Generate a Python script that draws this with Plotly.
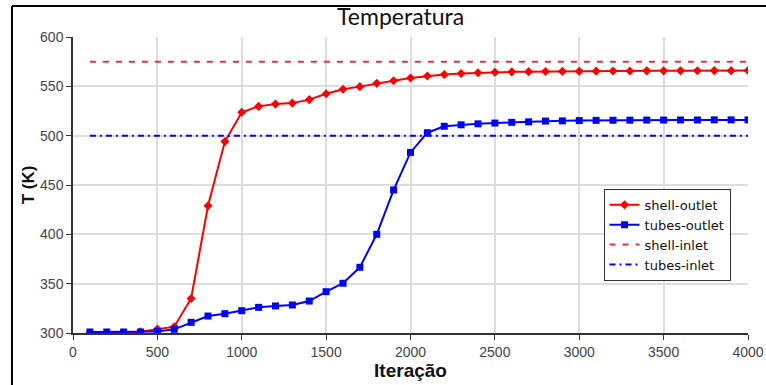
import plotly.graph_objects as go

iterations = list(range(100, 4001, 100))

shell_outlet = [300, 300, 300, 301.3, 304, 306.4, 335, 429, 494, 523.7,
                529.7, 532, 533, 536.5, 542.5, 547, 549.7, 553, 555.6, 558.4,
                560.5, 562, 563, 563.7, 564.2, 564.7, 564.9, 565.1, 565.2, 565.3,
                565.4, 565.5, 565.6, 565.7, 565.7, 565.8, 565.8, 565.9, 565.9, 566]

tubes_outlet = [301, 301, 301, 301, 301.5, 303.7, 310.8, 317.2, 319.6, 322.6,
                326, 327.4, 328.4, 332.4, 341.9, 350.4, 366.6, 400, 445, 483,
                503, 509.5, 511, 512, 512.8, 513.5, 514, 514.8, 515, 515.3,
                515.5, 515.6, 515.7, 515.8, 515.8, 515.9, 515.9, 516, 516, 516]

shell_inlet_T = 575
tubes_inlet_T = 500

x_ticks = [0, 500, 1000, 1500, 2000, 2500, 3000, 3500, 4000]
y_ticks = [300, 350, 400, 450, 500, 550, 600]

fig = go.Figure()
fig.add_trace(go.Scatter(x=iterations, y=shell_outlet, name="shell-outlet",
                         mode="lines+markers",
                         line=dict(color="#ff0000", width=2),
                         marker=dict(symbol="diamond", size=7, color="#ff0000")))
fig.add_trace(go.Scatter(x=iterations, y=tubes_outlet, name="tubes-outlet",
                         mode="lines+markers",
                         line=dict(color="#0000ff", width=2),
                         marker=dict(symbol="square", size=7, color="#0000ff")))
fig.add_trace(go.Scatter(x=iterations, y=[shell_inlet_T] * len(iterations), name="shell-inlet",
                         mode="lines",
                         line=dict(color="#e8303a", width=2, dash="6px,7px")))
fig.add_trace(go.Scatter(x=iterations, y=[tubes_inlet_T] * len(iterations), name="tubes-inlet",
                         mode="lines",
                         line=dict(color="#0000ff", width=2, dash="6px,4px,2px,4px")))

tick_font = dict(family="Liberation Sans Narrow, Liberation Sans, sans-serif", size=14, color="#444444")

fig.update_layout(
    width=766, height=385,
    margin=dict(l=73, r=18, t=37, b=52, autoexpand=False),
    paper_bgcolor="white", plot_bgcolor="white",
    title=dict(text="Temperatura", x=0.523, xanchor="center", y=0.955, yanchor="middle",
               font=dict(family="Lato, DejaVu Sans, sans-serif", size=23, color="#111111")),
    xaxis=dict(range=[0, 4000], tickvals=x_ticks, showgrid=True, gridcolor="#dddddd", gridwidth=1.5,
               showline=True, linecolor="#333333", linewidth=1.5, ticks="outside", ticklen=5,
               tickcolor="#333333", tickfont=tick_font, zeroline=False, automargin=False,
               title=dict(text="<b>Iteração</b>", standoff=4,
                          font=dict(family="Liberation Sans Narrow, Liberation Sans, sans-serif", size=19, color="#111111"))),
    yaxis=dict(range=[300, 600], tickvals=y_ticks, showgrid=True, gridcolor="#dddddd", gridwidth=1.5,
               showline=True, linecolor="#333333", linewidth=1.5, ticks="outside", ticklen=5,
               tickcolor="#333333", tickfont=tick_font, zeroline=False, automargin=False,
               title=dict(text="<b>T (K)</b>", standoff=1,
                          font=dict(family="Liberation Sans Narrow, Liberation Sans, sans-serif", size=17, color="#111111"))),
    legend=dict(x=0.786, y=0.487, xanchor="left", yanchor="top",
                bgcolor="white", bordercolor="#333333", borderwidth=1,
                font=dict(family="DejaVu Sans, sans-serif", size=13, color="#111111"),
                tracegroupgap=0, itemwidth=30),
    showlegend=True,
    shapes=[
        dict(type="line", xref="paper", yref="paper", x0=-0.0904, x1=-0.0904, y0=-0.2, y1=1.1047,
             line=dict(color="black", width=2)),
        dict(type="line", xref="paper", yref="paper", x0=-0.0904, x1=1.05, y0=1.1047, y1=1.1047,
             line=dict(color="black", width=2)),
    ],
)

fig.write_html("out.html")
